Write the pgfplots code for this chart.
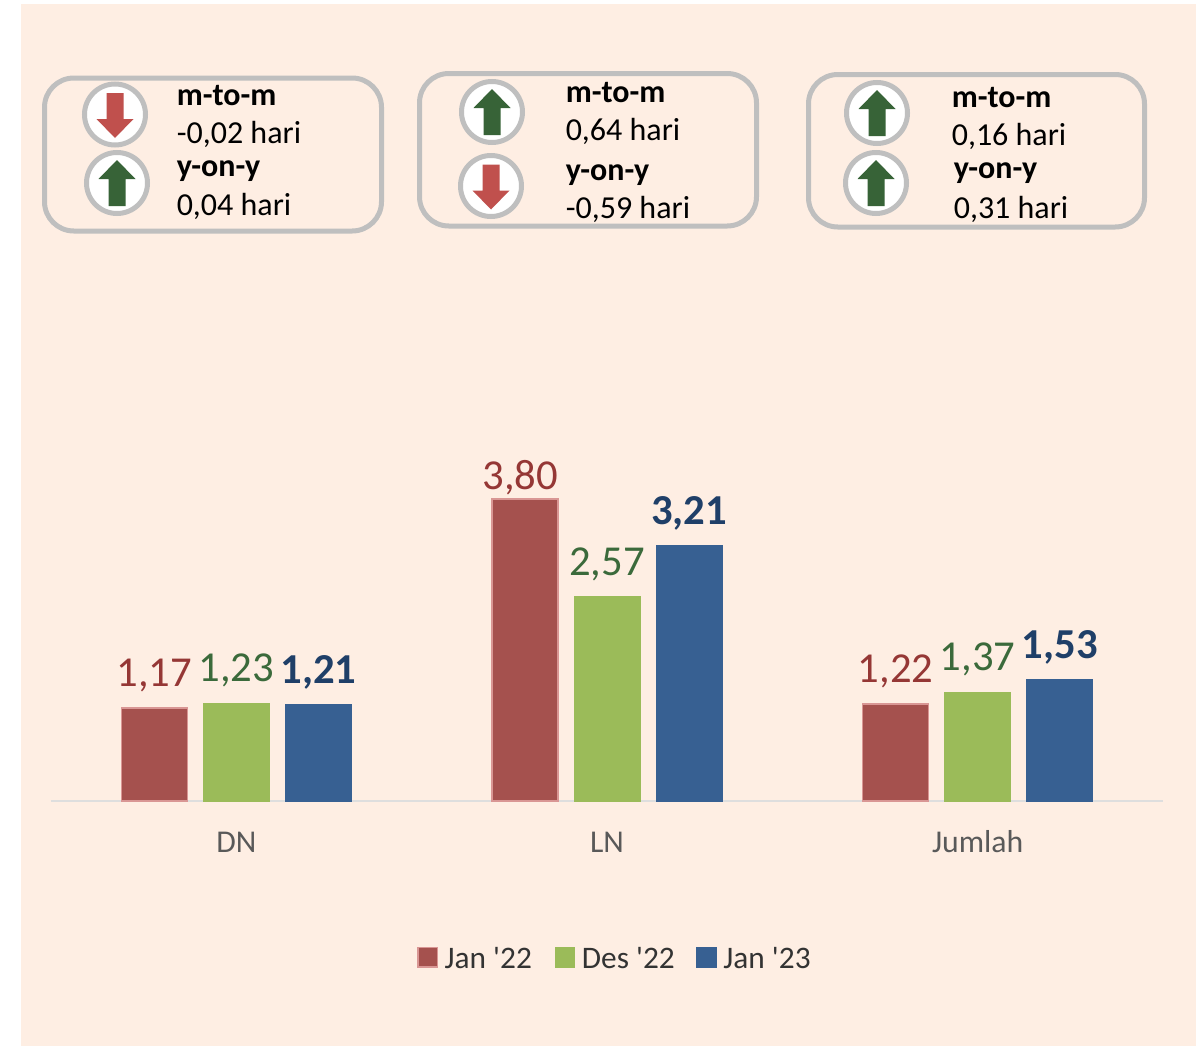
\documentclass[border=0pt]{standalone}
\usepackage{fontspec}
\setmainfont{Carlito}
\usepackage{pgfplots}
\pgfplotsset{compat=1.18}
\definecolor{bg}{HTML}{FEEEE3}
\definecolor{boxgray}{HTML}{BFBFBF}
\definecolor{arrR}{HTML}{C0504D}
\definecolor{arrG}{HTML}{376337}
\definecolor{barR}{HTML}{A5514E}
\definecolor{barRb}{HTML}{D99694}
\definecolor{barG}{HTML}{9BBB59}
\definecolor{barB}{HTML}{376092}
\definecolor{lblR}{HTML}{953735}
\definecolor{lblG}{HTML}{3B6A3B}
\definecolor{lblB}{HTML}{1F3F68}
\definecolor{axl}{HTML}{DEDEDE}
\definecolor{tickc}{HTML}{595959}
\definecolor{legc}{HTML}{333333}
\pgfplotsset{
  swatch/.style={legend image code/.code={\draw[##1,line width=1pt] (0pt,-6pt) rectangle (14.5pt,8.5pt);}},
}
\newcommand{\uparr}[2]{\fill[white,draw=boxgray,line width=3.75pt] (#1,#2) circle (30.5);
  \fill[arrG,shift={(#1,#2)}] (-8.5,23) -- (8.5,23) -- (8.5,-4) -- (18.5,-4) -- (0,-23) -- (-18.5,-4) -- (-8.5,-4) -- cycle;}
\newcommand{\downarr}[2]{\fill[white,draw=boxgray,line width=3.75pt] (#1,#2) circle (30.5);
  \fill[arrR,shift={(#1,#2)}] (-8.5,-21.5) -- (8.5,-21.5) -- (8.5,4.5) -- (18.5,4.5) -- (0,23.5) -- (-18.5,4.5) -- (-8.5,4.5) -- cycle;}
\newcommand{\tx}[3]{\node[anchor=base west,inner sep=0pt,font=\fontsize{24pt}{26pt}\selectfont,text=black] at (#1,#2) {#3};}
\newcommand{\tb}[3]{\node[anchor=base west,inner sep=0pt,font=\fontsize{24pt}{26pt}\selectfont\bfseries,text=black] at (#1,#2) {#3};}
\begin{document}
\begin{tikzpicture}
\begin{scope}[x=0.75pt,y=-0.75pt]
\fill[white] (0,0) rectangle (1196,1046);
\fill[bg] (21,4) rectangle (1196,1046);
\draw[boxgray,line width=3.75pt,rounded corners=22pt] (44.5,78) rectangle (381.5,231);
\draw[boxgray,line width=3.75pt,rounded corners=22pt] (419.5,73.5) rectangle (756.5,226);
\draw[boxgray,line width=3.75pt,rounded corners=22pt] (808.5,74.5) rectangle (1144.5,227);
\downarr{115}{114.5}
\uparr{117}{183}
\uparr{492}{112}
\downarr{491}{186}
\uparr{877}{113}
\uparr{876}{183}
\tb{176.5}{105}{m-to-m}
\tx{176.5}{143}{-0,02 hari}
\tb{176.5}{176}{y-on-y}
\tx{176.5}{215}{0,04 hari}
\tb{565.5}{102}{m-to-m}
\tx{565.5}{140}{0,64 hari}
\tb{565.5}{180}{y-on-y}
\tx{565.5}{218}{-0,59 hari}
\tb{951.5}{107}{m-to-m}
\tx{951.5}{145}{0,16 hari}
\tb{953.5}{178}{y-on-y}
\tx{953.5}{218}{0,31 hari}
\end{scope}
\begin{axis}[
  at={(38.25pt,-600.75pt)},anchor=south west,
  scale only axis,width=834pt,height=238.5pt,
  xmin=-0.5,xmax=2.5,ymin=0,ymax=4,
  clip=false,
  ybar=12pt,bar width=49.5pt,
  axis x line=bottom,axis y line=none,
  axis line style={draw=axl,line width=1.5pt,-},
  xtick={0,1,2},xticklabels={DN,LN,Jumlah},
  major tick length=0pt,
  xticklabel style={font=\fontsize{23.8pt}{26pt}\selectfont,text=tickc,anchor=base,yshift=-38.5pt},
  nodes near coords,
  /pgf/number format/use comma,
  /pgf/number format/fixed,
  /pgf/number format/fixed zerofill,
  /pgf/number format/precision=2,
  /pgf/number format/assume math mode=true,
  every node near coord/.append style={anchor=base,inner sep=0pt,yshift=16pt,font=\fontsize{32pt}{34pt}\selectfont},
  legend style={at={(0.5075,-0.4965)},anchor=center,draw=none,fill=none,legend columns=3,
    font=\fontsize{23.5pt}{25pt}\selectfont,text=legc,
    /tikz/every odd column/.style={column sep=3pt},
    /tikz/column 2/.style={column sep=15pt},
    /tikz/column 4/.style={column sep=14pt},
    inner sep=0pt,outer sep=0pt},
  legend cell align=left,
]
\addplot+[swatch,fill=barR,draw=barRb,line width=1.2pt,
  every node near coord/.append style={text=lblR},
  coordinate style/.condition={y>3.7}{xshift=-3.5pt,yshift=-9pt}]
  coordinates {(0,1.17) (1,3.80) (2,1.22)};
\addlegendentry{Jan \textquotesingle 22}
\addplot+[swatch,fill=barG,draw=barG,line width=0.5pt,
  every node near coord/.append style={text=lblG}]
  coordinates {(0,1.23) (1,2.57) (2,1.37)};
\addlegendentry{Des \textquotesingle 22}
\addplot+[swatch,fill=barB,draw=barB,line width=0.5pt,
  every node near coord/.append style={text=lblB,font=\fontsize{32pt}{34pt}\selectfont\bfseries}]
  coordinates {(0,1.21) (1,3.21) (2,1.53)};
\addlegendentry{Jan \textquotesingle 23}
\end{axis}
\end{tikzpicture}
\end{document}
